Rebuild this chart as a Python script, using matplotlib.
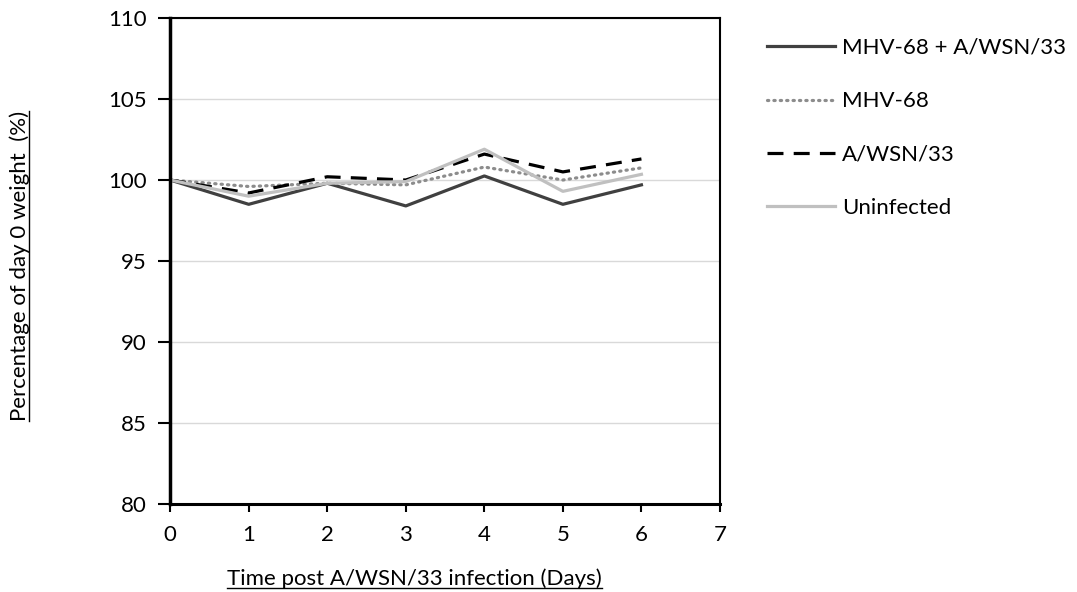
import matplotlib.pyplot as plt
from matplotlib.lines import Line2D

plt.rcParams['font.family'] = ['Lato', 'DejaVu Sans']

# data
days = [0, 1, 2, 3, 4, 5, 6]
combo = [100, 98.5, 99.8, 98.4, 100.25, 98.5, 99.7]
mhv = [100, 99.6, 99.8, 99.7, 100.8, 100.0, 100.75]
wsn = [100, 99.2, 100.2, 100.0, 101.6, 100.5, 101.3]
uninf = [100, 99.0, 99.8, 99.9, 101.9, 99.3, 100.35]
labels = ['MHV-68 + A/WSN/33', 'MHV-68', 'A/WSN/33', 'Uninfected']

fig = plt.figure(figsize=(10.77, 5.92), dpi=100)
ax = fig.add_axes([0.158, 0.1486, 0.5105, 0.821])

ax.plot(days, combo, color='#404040', lw=2.3, label=labels[0])
ax.plot(days, mhv, color='#8c8c8c', lw=2.3, linestyle=(0, (0.4, 1.6)),
        dash_capstyle='round', label=labels[1])
ax.plot(days, wsn, color='black', lw=2.3, linestyle=(0, (5, 3.2)), label=labels[2])
ax.plot(days, uninf, color='#c0c0c0', lw=2.3, label=labels[3])

ax.set_xlim(0, 7)
ax.set_ylim(80, 110)
ax.set_xticks(range(0, 8))
ax.set_yticks(range(80, 111, 5))
ax.yaxis.grid(True, color='#d9d9d9', lw=1)
ax.set_axisbelow(True)
ax.tick_params(axis='both', labelsize=16, direction='out', width=1.5)
ax.tick_params(axis='y', length=9, pad=8)
ax.tick_params(axis='x', length=6, pad=9)
ax.spines['left'].set_linewidth(2.5)
ax.spines['bottom'].set_linewidth(2.2)
ax.spines['top'].set_linewidth(1.5)
ax.spines['right'].set_linewidth(1.5)

xl = ax.set_xlabel('Time post A/WSN/33 infection (Days)', fontsize=16)
ax.xaxis.set_label_coords(0.445, -0.133)
yl = ax.set_ylabel('Percentage of day 0 weight  (%)', fontsize=16)
ax.yaxis.set_label_coords(-0.255, 0.49)

leg = ax.legend(loc='upper left', bbox_to_anchor=(1.05, 1.0), frameon=False,
                fontsize=16, handlelength=3.05, labelspacing=1.5, handletextpad=0.3)

# underline the axis titles
fig.canvas.draw()
r = fig.canvas.get_renderer()
W, H = fig.bbox.width, fig.bbox.height
bb = xl.get_window_extent(r)
fig.add_artist(Line2D([bb.x0 / W, bb.x1 / W], [(bb.y0 + 1) / H] * 2, color='black', lw=1))
bb = yl.get_window_extent(r)
fig.add_artist(Line2D([(bb.x1 - 1) / W] * 2, [bb.y0 / H, bb.y1 / H], color='black', lw=1))

fig.savefig('out.png', dpi=100)
